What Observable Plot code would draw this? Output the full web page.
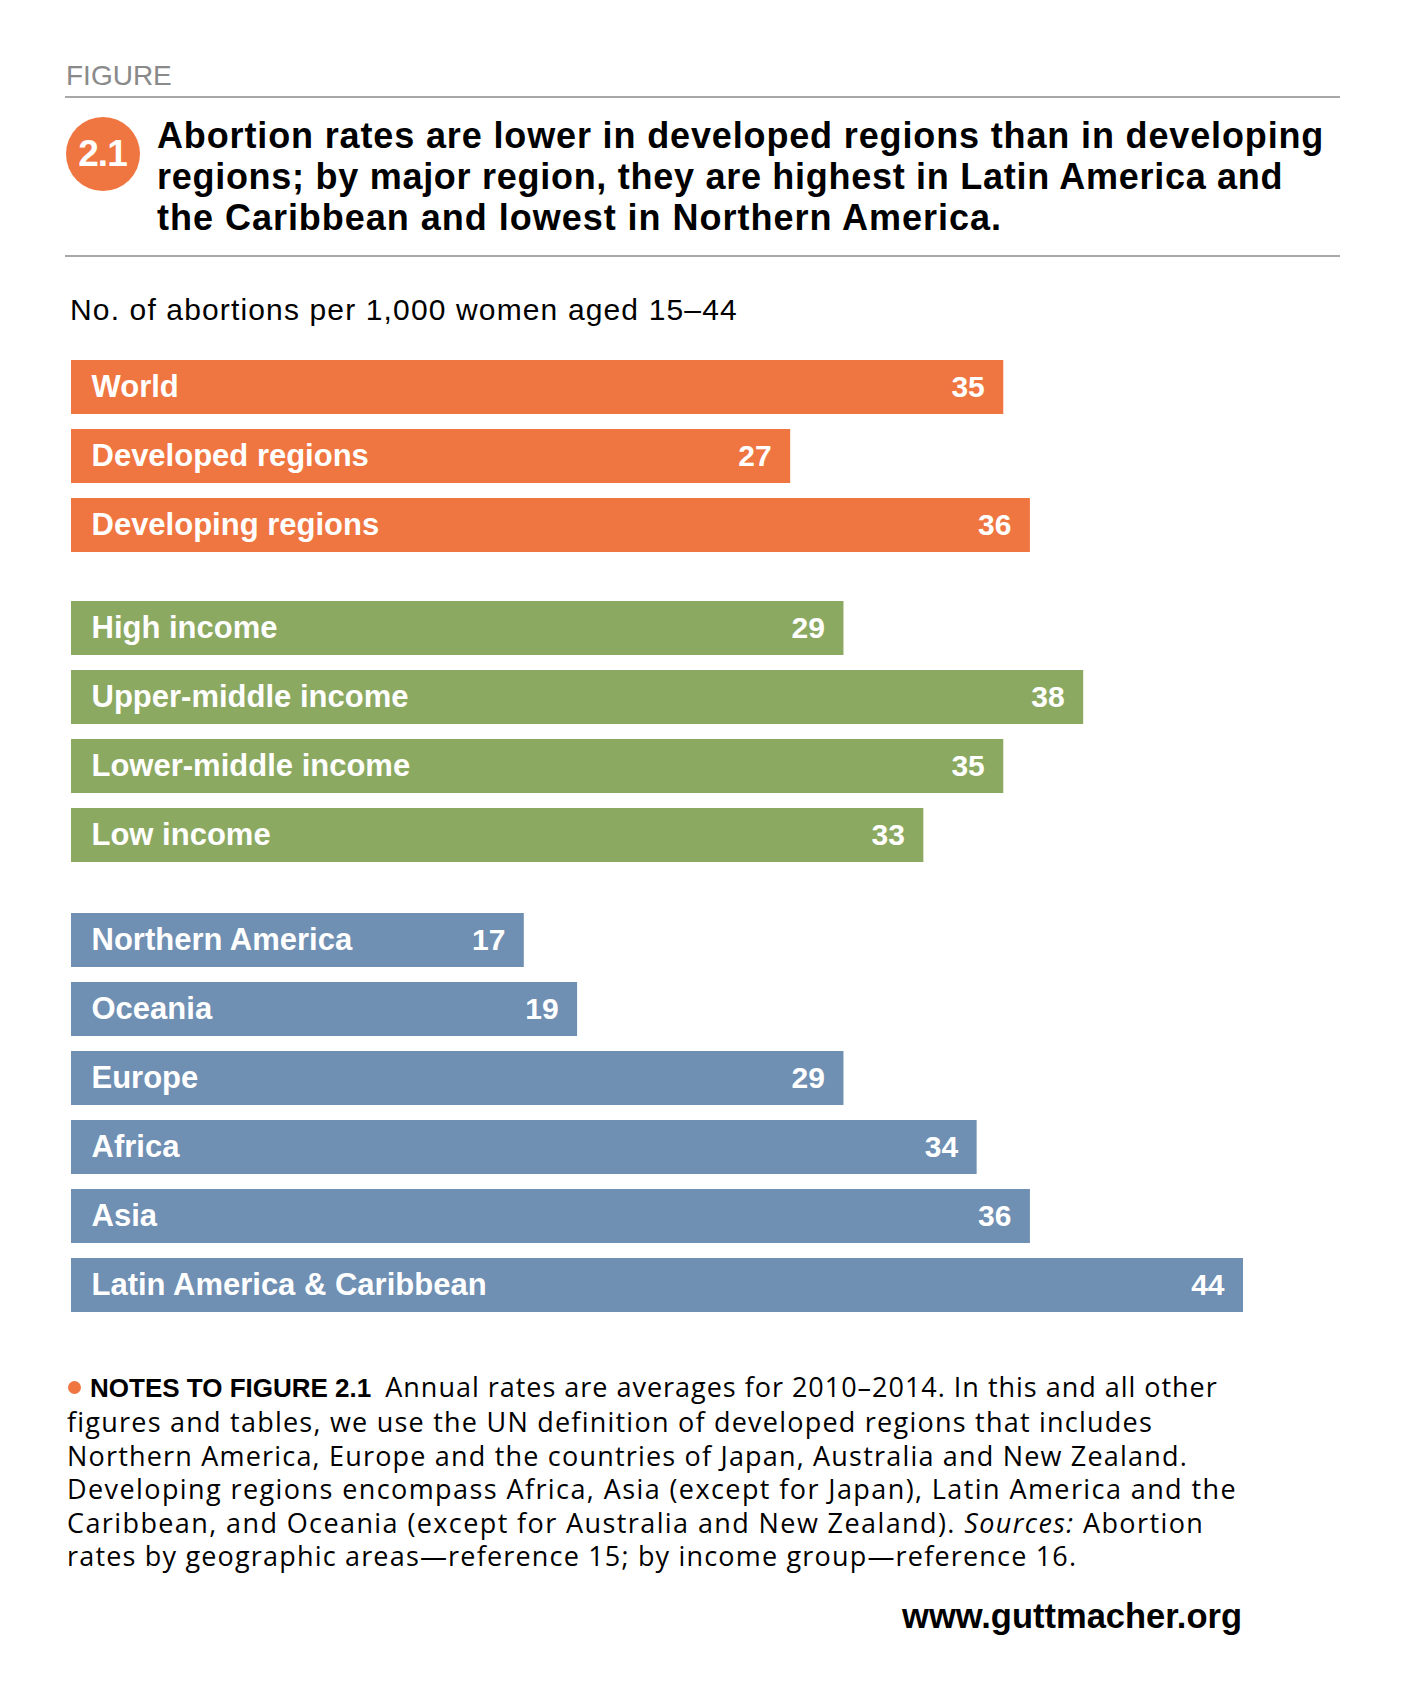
<!DOCTYPE html>
<html>
<head>
<meta charset="utf-8">
<script src="https://cdn.jsdelivr.net/npm/d3@7"></script>
<script src="https://cdn.jsdelivr.net/npm/@observablehq/plot@0.6"></script>
<style>
  html, body { margin: 0; padding: 0; background: #fff; }
  #page { position: relative; width: 1409px; height: 1690px; background: #fff; overflow: hidden; font-family: "Liberation Sans", Arial, sans-serif; color: #000; }
  .abs { position: absolute; white-space: nowrap; }
  #figure { left: 66px; top: 62px; font-size: 28px; line-height: 28px; color: #8a8a8a; }
  .rule { position: absolute; left: 65px; width: 1275px; height: 2px; background: #a8a8a8; }
  #badge { left: 65.5px; top: 116.5px; width: 74px; height: 74px; border-radius: 50%; background: #F07641; color: #fff; font-weight: bold; font-size: 37px; line-height: 74px; text-align: center; letter-spacing: -1px; }
  #title { left: 157px; top: 115px; font-size: 36px; line-height: 41px; font-weight: bold; }
  #title span, #notes span.ln, #subtitle span { display: inline-block; }
  #subtitle { left: 70px; top: 295px; font-size: 30px; line-height: 30px; }
  .chart { position: absolute; left: 0; }
  #notes { left: 67px; top: 1370px; font-size: 27px; line-height: 33.4px; font-family: "Open Sans", "Liberation Sans", sans-serif; }
  #notes b { font-family: "Liberation Sans", Arial, sans-serif; font-size: 26px; }
  #notes .bullet { display: inline-block; width: 13px; height: 13px; border-radius: 50%; background: #F07641; margin: 0 9px 5px 1px; vertical-align: middle; }
  #site { right: 167px; top: 1599px; font-size: 34.5px; line-height: 34.5px; font-weight: bold; }
</style>
</head>
<body>
<div id="page">
  <div id="figure" class="abs">FIGURE</div>
  <div class="rule" style="top:96px"></div>
  <div id="badge" class="abs">2.1</div>
  <div id="title" class="abs"><span data-r="1324">Abortion rates are lower in developed regions than in developing</span><br><span data-r="1283">regions; by major region, they are highest in Latin America and</span><br><span data-r="1002">the Caribbean and lowest in Northern America.</span></div>
  <div class="rule" style="top:255px"></div>
  <div id="subtitle" class="abs"><span data-r="738">No. of abortions per 1,000 women aged 15–44</span></div>
  <div id="c1" class="chart" style="top:352.5px"></div>
  <div id="c2" class="chart" style="top:594px"></div>
  <div id="c3" class="chart" style="top:905.5px"></div>
  <div id="notes" class="abs"><span class="bullet"></span><b>NOTES TO FIGURE 2.1</b>&nbsp; <span class="ln" data-r="1218">Annual rates are averages for 2010–2014. In this and all other</span><br><span class="ln" data-r="1153">figures and tables, we use the UN definition of developed regions that includes</span><br><span class="ln" data-r="1188">Northern America, Europe and the countries of Japan, Australia and New Zealand.</span><br><span class="ln" data-r="1237">Developing regions encompass Africa, Asia (except for Japan), Latin America and the</span><br><span class="ln" data-r="1204">Caribbean, and Oceania (except for Australia and New Zealand). <i>Sources:</i> Abortion</span><br><span class="ln" data-r="1077">rates by geographic areas—reference 15; by income group—reference 16.</span></div>
  <div id="site" class="abs">www.guttmacher.org</div>
</div>
<script>
// ---- data ----
const devCategories = ["World", "Developed regions", "Developing regions"];
const devValues = [35, 27, 36];
const devLabels = ["35", "27", "36"];
const incomeCategories = ["High income", "Upper-middle income", "Lower-middle income", "Low income"];
const incomeValues = [29, 38, 35, 32];   // bar lengths as drawn
const incomeLabels = ["29", "38", "35", "33"]; // printed values
const regionCategories = ["Northern America", "Oceania", "Europe", "Africa", "Asia", "Latin America & Caribbean"];
const regionValues = [17, 19, 29, 34, 36, 44];
const regionLabels = ["17", "19", "29", "34", "36", "44"];
const groupColors = ["#F07641", "#8CA962", "#6F8FB3"];
const xMax = 44;

function drawGroup(el, cats, vals, labels, color) {
  const data = cats.map((c, i) => ({category: c, value: vals[i], label: labels[i]}));
  const step = 69;
  const chart = Plot.plot({
    width: 1409,
    height: cats.length * step,
    marginLeft: 71,
    marginRight: 166,
    marginTop: 0,
    marginBottom: 0,
    x: {domain: [0, xMax], axis: null},
    y: {domain: cats, axis: null, paddingInner: 0.217, paddingOuter: 0.1085},
    style: {fontFamily: "Liberation Sans, Arial, sans-serif", background: "transparent"},
    marks: [
      Plot.barX(data, {x: "value", y: "category", fill: color}),
      Plot.text(data, {x: 0, y: "category", text: "category", textAnchor: "start", dx: 20, fill: "#fff", fontSize: 31, fontWeight: "bold"}),
      Plot.text(data, {x: "value", y: "category", text: "label", textAnchor: "end", dx: -19, fill: "#fff", fontSize: 30, fontWeight: "bold"})
    ]
  });
  chart.style.display = "block";
  document.getElementById(el).appendChild(chart);
}
drawGroup("c1", devCategories, devValues, devLabels, groupColors[0]);
drawGroup("c2", incomeCategories, incomeValues, incomeLabels, groupColors[1]);
drawGroup("c3", regionCategories, regionValues, regionLabels, groupColors[2]);

// fit text lines to the reference's line ends (letter-spacing only)
function fitLines() {
  document.querySelectorAll("[data-r]").forEach(s => {
    s.style.letterSpacing = "0px";
    const r = s.getBoundingClientRect();
    const n = s.textContent.length;
    const ls = (+s.dataset.r - r.right) / n;
    s.style.letterSpacing = Math.max(-2, Math.min(3, ls)).toFixed(2) + "px";
  });
}
if (document.fonts && document.fonts.ready) document.fonts.ready.then(fitLines); else fitLines();
fitLines();
</script>
</body>
</html>
